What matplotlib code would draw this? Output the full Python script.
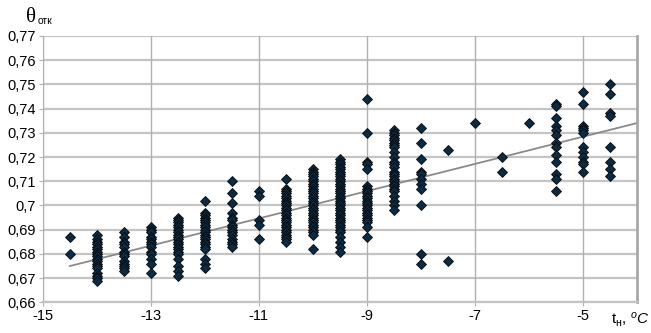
import numpy as np
import matplotlib
matplotlib.use('Agg')
import matplotlib.pyplot as plt

plt.rcParams['font.family'] = ['Liberation Sans Narrow', 'Liberation Sans', 'DejaVu Sans']
plt.rcParams['mathtext.fontset'] = 'custom'
plt.rcParams['mathtext.rm'] = 'Liberation Sans'
plt.rcParams['mathtext.it'] = 'Liberation Sans:italic'

# measured values, grouped by outdoor temperature
y_m14_5 = [0.687, 0.680]
y_m14 = [0.688, 0.686, 0.685, 0.684, 0.683, 0.682, 0.681, 0.680, 0.679, 0.678,
         0.677, 0.676, 0.675, 0.674, 0.672, 0.671, 0.670, 0.669]
y_m13_5 = [0.689, 0.687, 0.685, 0.684, 0.683, 0.681, 0.680, 0.679, 0.677, 0.676,
           0.675, 0.674, 0.673]
y_m13 = [0.691, 0.690, 0.689, 0.687, 0.686, 0.685, 0.684, 0.683, 0.681, 0.680,
         0.678, 0.676, 0.672]
y_m12_5 = [0.695, 0.694, 0.693, 0.692, 0.691, 0.690, 0.689, 0.688, 0.687, 0.686,
           0.685, 0.684, 0.683, 0.682, 0.681, 0.680, 0.678, 0.675, 0.673, 0.671]
y_m12 = [0.702, 0.697, 0.696, 0.695, 0.694, 0.693, 0.692, 0.691, 0.690, 0.689,
         0.688, 0.687, 0.686, 0.685, 0.684, 0.683, 0.682, 0.678, 0.676, 0.674]
y_m11_5 = [0.710, 0.705, 0.701, 0.697, 0.695, 0.694, 0.692, 0.691, 0.690, 0.689,
           0.688, 0.686, 0.685, 0.684, 0.683]
y_m11 = [0.706, 0.704, 0.694, 0.692, 0.686]
y_m10_5 = [0.711, 0.707, 0.706, 0.705, 0.704, 0.703, 0.702, 0.701, 0.700, 0.699,
           0.698, 0.697, 0.696, 0.695, 0.694, 0.693, 0.692, 0.691, 0.690, 0.689,
           0.688, 0.687, 0.686, 0.685]
y_m10 = [0.715, 0.714, 0.713, 0.712, 0.711, 0.710, 0.709, 0.708, 0.707, 0.706,
         0.705, 0.704, 0.703, 0.702, 0.701, 0.700, 0.699, 0.698, 0.697, 0.696,
         0.695, 0.694, 0.693, 0.692, 0.691, 0.690, 0.689, 0.688, 0.682]
y_m9_5 = [0.719, 0.718, 0.717, 0.716, 0.715, 0.714, 0.713, 0.712, 0.711, 0.710,
          0.709, 0.708, 0.707, 0.706, 0.705, 0.704, 0.703, 0.702, 0.701, 0.700,
          0.699, 0.698, 0.697, 0.696, 0.695, 0.694, 0.693, 0.692, 0.691, 0.690,
          0.689, 0.687, 0.685, 0.683, 0.681]
y_m9 = [0.744, 0.730, 0.718, 0.717, 0.715, 0.708, 0.707, 0.706, 0.705, 0.704,
        0.703, 0.702, 0.701, 0.700, 0.699, 0.698, 0.697, 0.696, 0.695, 0.694,
        0.693, 0.691, 0.687]
y_m8_5 = [0.731, 0.730, 0.729, 0.728, 0.727, 0.726, 0.725, 0.724, 0.722, 0.720,
          0.718, 0.717, 0.716, 0.714, 0.713, 0.712, 0.711, 0.710, 0.709, 0.708,
          0.707, 0.706, 0.704, 0.702, 0.700, 0.698]
y_m8 = [0.732, 0.726, 0.719, 0.714, 0.713, 0.711, 0.709, 0.707, 0.700, 0.680, 0.676]
y_m7_5 = [0.723, 0.677]
y_m7 = [0.734]
y_m6_5 = [0.720, 0.714]
y_m6 = [0.734]
y_m5_5 = [0.742, 0.741, 0.736, 0.733, 0.731, 0.729, 0.726, 0.724, 0.721, 0.718,
          0.713, 0.711, 0.706]
y_m5 = [0.747, 0.742, 0.733, 0.732, 0.731, 0.730, 0.724, 0.722, 0.720, 0.718,
        0.717, 0.714]
y_m4_5 = [0.750, 0.746, 0.738, 0.737, 0.724, 0.718, 0.715, 0.712]

temps = [-14.5, -14, -13.5, -13, -12.5, -12, -11.5, -11, -10.5, -10, -9.5,
         -9, -8.5, -8, -7.5, -7, -6.5, -6, -5.5, -5, -4.5]
groups = [y_m14_5, y_m14, y_m13_5, y_m13, y_m12_5, y_m12, y_m11_5, y_m11,
          y_m10_5, y_m10, y_m9_5, y_m9, y_m8_5, y_m8, y_m7_5, y_m7, y_m6_5,
          y_m6, y_m5_5, y_m5, y_m4_5]

# linear trend line (as drawn in the source)
trend_x = [-14.5, -4]
trend_y = [0.675, 0.734]

xticks = [-15, -13, -11, -9, -7, -5]
yticks = [0.66, 0.67, 0.68, 0.69, 0.70, 0.71, 0.72, 0.73, 0.74, 0.75, 0.76, 0.77]

x = np.concatenate([[t] * len(g) for t, g in zip(temps, groups)])
y = np.concatenate(groups)

fig = plt.figure(figsize=(6.51, 3.33), dpi=100)
ax = fig.add_axes([0.066, 0.092, 0.912, 0.800])

grid_c = '#c4c4c4'
for v in yticks:
    ax.axhline(v, color=grid_c, lw=1.6, zorder=0)
for v in xticks:
    ax.axvline(v, color='#b0b0b0', lw=1.0, zorder=0)

ax.plot(trend_x, trend_y, color='#8a8a8a', lw=1.3, zorder=2)
ax.plot(x, y, linestyle='none', marker='D', ms=4.6, mfc='#0e2a40',
        mec='#050a10', mew=0.6, zorder=3)

ax.set_xlim(-15, -4)
ax.set_ylim(0.66, 0.77)
ax.set_xticks(xticks)
ax.set_xticklabels([str(v) for v in xticks])
ax.set_yticks(yticks)
ax.set_yticklabels([f'{v:g}'.replace('.', ',') for v in yticks])
ax.tick_params(axis='both', labelsize=10.5, length=3, color='#b0b0b0', pad=2)

ax.spines['top'].set_visible(False)
ax.spines['left'].set_color('#b0b0b0')
ax.spines['bottom'].set_color(grid_c)
ax.spines['bottom'].set_linewidth(1.6)
ax.spines['right'].set_color('#a8a8a8')
ax.spines['right'].set_linewidth(2.0)

# axis captions
fig.text(0.040, 0.947, 'θ', fontsize=15, va='center', family=['Liberation Serif'])
fig.text(0.058, 0.936, 'отк', fontsize=7.5, va='center')
fig.text(0.938, 0.040, r't$_{\mathrm{н}}$, $^{o}$$\mathit{C}$', fontsize=11,
         va='center')

fig.savefig('out.png', dpi=100)
